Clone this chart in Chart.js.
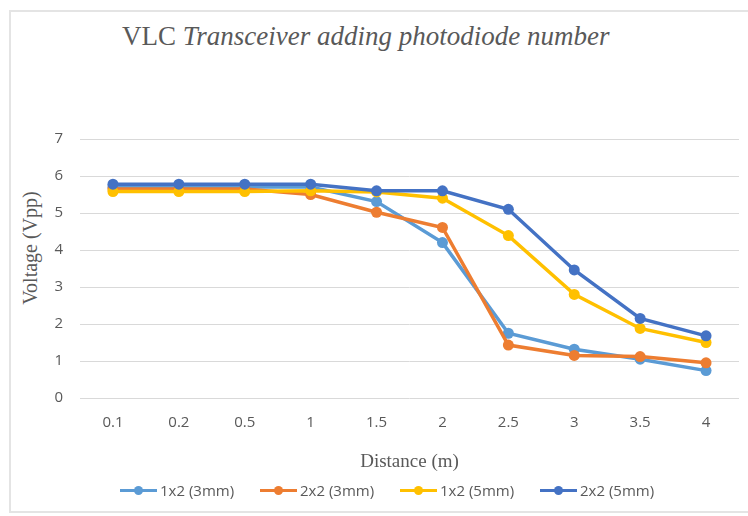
<!DOCTYPE html>
<html>
<head>
<meta charset="utf-8">
<script src="https://cdn.jsdelivr.net/npm/chart.js@4.4.1/dist/chart.umd.min.js"></script>
<style>
  html, body { margin: 0; padding: 0; background: #fff; overflow: hidden; }
  #wrap { position: relative; width: 748px; height: 516px; overflow: hidden; background: #fff; }
  .edge { position: absolute; background: #e4e4e4; }
  #title { position: absolute; left: 122px; top: 21px; font-family: "Liberation Serif", serif;
           font-size: 27px; color: #595959; white-space: nowrap; }
  #ytitle { position: absolute; left: 30px; top: 248px; transform: translate(-50%, -50%) rotate(-90deg);
            font-family: "Liberation Serif", serif; font-size: 20px; color: #595959; white-space: nowrap; }
  #legend { position: absolute; left: 0; top: 480px; width: 748px; height: 20px; }
  .item { position: absolute; top: 0; height: 20px; display: flex; align-items: center;
          font-family: "Open Sans", sans-serif; font-size: 15px; color: #595959; white-space: nowrap; }
  .mark { position: relative; width: 37px; height: 3px; margin-right: 3px; }
  .mark span { position: absolute; left: 14px; top: -3px; width: 9px; height: 9px; border-radius: 50%; }
  canvas { position: absolute; left: 0; top: 0; }
</style>
</head>
<body>
<div id="wrap">
  <div class="edge" style="left:9px;top:10px;width:739px;height:2px"></div>
  <div class="edge" style="left:9px;top:10px;width:2px;height:503px"></div>
  <div class="edge" style="left:9px;top:511px;width:739px;height:2px"></div>
  <div id="title">VLC <i>Transceiver adding photodiode number</i></div>
  <div id="ytitle">Voltage (Vpp)</div>
  <canvas id="chart" width="748" height="516"></canvas>
  <div id="legend"></div>
</div>
<script>
const distances = ['0.1', '0.2', '0.5', '1', '1.5', '2', '2.5', '3', '3.5', '4'];
const seriesNames = ['1x2 (3mm)', '2x2 (3mm)', '1x2 (5mm)', '2x2 (5mm)'];
const seriesColors = ['#5B9BD5', '#ED7D31', '#FFC000', '#4472C4'];
const pd1x2_3mm = [5.7, 5.7, 5.7, 5.7, 5.31, 4.2, 1.75, 1.32, 1.05, 0.74];
const pd2x2_3mm = [5.65, 5.65, 5.65, 5.5, 5.02, 4.61, 1.43, 1.15, 1.12, 0.95];
const pd1x2_5mm = [5.58, 5.58, 5.58, 5.6, 5.57, 5.4, 4.39, 2.8, 1.88, 1.5];
const pd2x2_5mm = [5.78, 5.78, 5.78, 5.78, 5.6, 5.6, 5.1, 3.46, 2.15, 1.68];
const yTicks = [0, 1, 2, 3, 4, 5, 6, 7];

const allSeries = [pd1x2_3mm, pd2x2_3mm, pd1x2_5mm, pd2x2_5mm];

const tickFont = { family: 'Open Sans', size: 15 };
const gray = '#595959';

const datasets = allSeries.map((vals, i) => ({
  label: seriesNames[i],
  data: vals,
  borderColor: seriesColors[i],
  backgroundColor: seriesColors[i],
  borderWidth: 3.5,
  pointRadius: 5.5,
  pointBorderWidth: 0,
  pointHoverRadius: 5.5,
  tension: 0,
  // later series sit on top, like the original
  order: allSeries.length - i
}));

new Chart(document.getElementById('chart').getContext('2d'), {
  type: 'line',
  data: { labels: distances, datasets: datasets },
  options: {
    responsive: false,
    animation: false,
    layout: { padding: { top: 139, right: 9, bottom: 43, left: 0 } },
    plugins: {
      legend: { display: false },
      title: { display: false },
      tooltip: { enabled: false }
    },
    scales: {
      x: {
        offset: true,
        grid: { display: false, drawTicks: false },
        border: { display: false },
        ticks: { color: gray, font: tickFont, padding: 16, maxRotation: 0 },
        title: {
          display: true,
          text: 'Distance (m)',
          color: gray,
          font: { family: 'Liberation Serif', size: 19 },
          padding: { top: 5, bottom: 0 }
        },
        afterFit: (scale) => { scale.height = 75; }
      },
      y: {
        min: 0,
        max: 7,
        afterBuildTicks: (scale) => { scale.ticks = yTicks.map(v => ({ value: v })); },
        grid: { color: '#d9d9d9', lineWidth: 1, drawTicks: false },
        border: { display: false },
        ticks: { color: gray, font: tickFont, padding: 17 },
        afterFit: (scale) => { scale.width = 80; }
      }
    }
  }
});

const legend = document.getElementById('legend');
seriesNames.forEach((name, i) => {
  const item = document.createElement('div');
  item.className = 'item';
  item.style.left = (120 + i * 140) + 'px';
  const mark = document.createElement('div');
  mark.className = 'mark';
  mark.style.background = seriesColors[i];
  const dot = document.createElement('span');
  dot.style.background = seriesColors[i];
  mark.appendChild(dot);
  item.appendChild(mark);
  item.appendChild(document.createTextNode(name));
  legend.appendChild(item);
});
</script>
</body>
</html>
